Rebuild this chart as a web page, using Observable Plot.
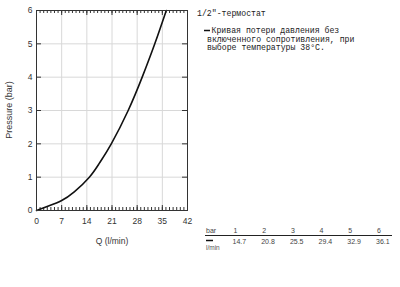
<!DOCTYPE html>
<html>
<head>
<meta charset="utf-8">
<script src="https://cdn.jsdelivr.net/npm/d3@7"></script>
<script src="https://cdn.jsdelivr.net/npm/@observablehq/plot@0.6"></script>
<style>
  html, body { margin: 0; padding: 0; background: #fff; }
  svg { display: block; }
</style>
</head>
<body>
<div id="chart"></div>
<script>
// Curve data
const flow = [0, 3.5, 7, 10.5, 14.7, 17.5, 20.8, 25.5, 29.4, 32.9, 36.1];
const pressure = [0, 0.14, 0.3, 0.56, 1, 1.42, 2, 3, 4, 5, 6];
// Table
const tableBar = [1, 2, 3, 4, 5, 6];
const tableFlow = ["14.7", "20.8", "25.5", "29.4", "32.9", "36.1"];
// Ticks
const xTicks = [0, 7, 14, 21, 28, 35, 42];
const xMinor = d3.range(0, 43, 1);
const yTicks = [0, 1, 2, 3, 4, 5, 6];
// Texts
const titleText = "1/2\"-термостат";
const legendLines = ["Кривая потери давления без", "включенного сопротивления, при", "выборе температуры 38°C."];
const xLabel = "Q (l/min)";
const yLabel = "Pressure (bar)";

const data = flow.map((q, i) => ({q, p: pressure[i]}));

const W = 400, H = 287;
const mL = 36, mR = 213, mT = 10, mB = 77;
const plotW = W - mL - mR, plotH = H - mT - mB;

const chart = Plot.plot({
  width: W, height: H,
  marginLeft: mL, marginRight: mR, marginTop: mT, marginBottom: mB,
  style: {fontFamily: "'Liberation Sans', Arial, sans-serif", fontSize: "8.5px", color: "#333", background: "#fff"},
  x: {domain: [0, 42]},
  y: {domain: [0, 6]},
  marks: [
    Plot.gridX(xTicks, {stroke: "#d8d8d8", strokeOpacity: 1}),
    Plot.gridY(yTicks, {stroke: "#d8d8d8", strokeOpacity: 1}),
    Plot.axisX(xTicks, {tickSize: 0, tickPadding: 7, label: null, fill: "#333"}),
    Plot.axisY(yTicks, {tickSize: 0, tickPadding: 4, label: null, fill: "#333"}),
    // inward minor/major ticks on top and bottom
    Plot.tickX(xMinor, {x: d => d, insetTop: plotH - 3, stroke: "#333"}),
    Plot.tickX(xMinor, {x: d => d, insetBottom: plotH - 3, stroke: "#333"}),
    Plot.tickX(xTicks, {x: d => d, insetTop: plotH - 5, stroke: "#333"}),
    Plot.tickX(xTicks, {x: d => d, insetBottom: plotH - 5, stroke: "#333"}),
    // inward ticks on left and right
    Plot.tickY(yTicks, {y: d => d, insetRight: plotW - 5, stroke: "#333"}),
    Plot.tickY(yTicks, {y: d => d, insetLeft: plotW - 5, stroke: "#333"}),
    Plot.line(data, {x: "q", y: "p", curve: "natural", stroke: "#111", strokeWidth: 1.6}),
    Plot.frame({stroke: "#333"}),
    Plot.text([xLabel], {frameAnchor: "bottom", dy: 33, fill: "#333", textAnchor: "middle"})
  ]
});

const svg = d3.select(chart);
const sans = "'Liberation Sans', Arial, sans-serif";
svg.append("text").attr("transform", `translate(${mL - 27},${mT + plotH / 2}) rotate(-90)`)
  .attr("text-anchor", "middle").attr("dy", "0.35em").attr("font-family", sans)
  .attr("font-size", 9).attr("fill", "#333").text(yLabel);

const mono = "'Courier New', 'Liberation Mono', monospace";
function txt(x, y, t, family, size, fill) {
  svg.append("text").attr("x", x).attr("y", y).attr("font-family", family)
    .attr("font-size", size).attr("fill", fill).attr("text-anchor", "start").text(t);
}
txt(197, 16, titleText, mono, 8.2, "#222");
svg.append("line").attr("x1", 204).attr("x2", 210).attr("y1", 30.5).attr("y2", 30.5)
  .attr("stroke", "#111").attr("stroke-width", 1.5);
legendLines.forEach((t, i) => txt(i === 0 ? 211.5 : 207, 33 + i * 8.7, t, mono, 8.2, "#222"));

txt(206, 233, "bar", sans, 7, "#444");
svg.append("line").attr("x1", 205).attr("x2", 392).attr("y1", 235.5).attr("y2", 235.5)
  .attr("stroke", "#222").attr("stroke-width", 1.2);
svg.append("line").attr("x1", 206).attr("x2", 213).attr("y1", 240.5).attr("y2", 240.5)
  .attr("stroke", "#111").attr("stroke-width", 1.5);
txt(206, 249.5, "l/min", sans, 6.5, "#555");
tableBar.forEach((b, i) => {
  const x = 232.5 + i * 28.7;
  txt(x + 1, 233, b, sans, 7, "#444");
  txt(x, 243.5, tableFlow[i], sans, 7, "#444");
});

document.getElementById("chart").appendChild(chart);
</script>
</body>
</html>
